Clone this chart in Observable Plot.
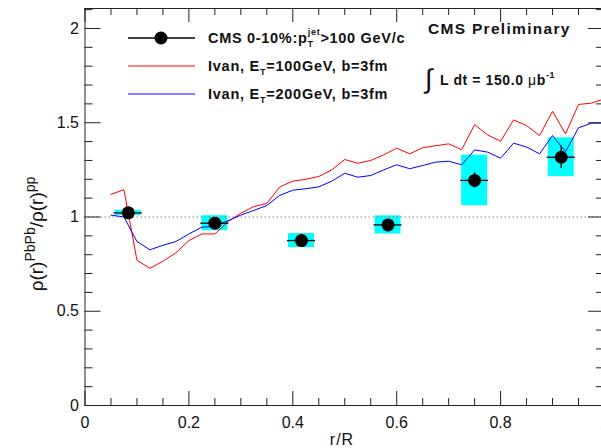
<!DOCTYPE html>
<html>
<head>
<meta charset="utf-8">
<script src="https://cdn.jsdelivr.net/npm/d3@7"></script>
<script src="https://cdn.jsdelivr.net/npm/@observablehq/plot@0.6"></script>
<style>
  body { margin: 0; background: #fff; }
  svg text { font-family: "Liberation Sans", Arial, Helvetica, sans-serif; }
</style>
</head>
<body>
<div id="chart"></div>
<script>
// CMS 0-10% jet shape ratio PbPb / pp, bins of width 1/6 in r/R
const rBins    = [0.0833, 0.25, 0.4167, 0.5833, 0.75, 0.9167];
const cmsRatio = [1.022, 0.967, 0.875, 0.958, 1.194, 1.317];
const cmsStat  = [0.012, 0.012, 0.010, 0.010, 0.040, 0.060];
const cmsSyst  = [0.014, 0.040, 0.037, 0.048, 0.134, 0.103];

// Model curves (Ivan, b = 3 fm)
const modelR = [0.05, 0.075, 0.1, 0.125, 0.15, 0.175, 0.2, 0.225, 0.25, 0.275,
                0.3, 0.325, 0.35, 0.375, 0.4, 0.425, 0.45, 0.475, 0.5, 0.525,
                0.55, 0.575, 0.6, 0.625, 0.65, 0.675, 0.7, 0.725, 0.75, 0.775,
                0.8, 0.825, 0.85, 0.875, 0.9, 0.925, 0.95, 0.975, 1.0];
const ivanEt100 = [1.12, 1.145, 0.77, 0.728, 0.765, 0.81, 0.875, 0.91, 0.91, 0.975,
                   1.02, 1.055, 1.072, 1.16, 1.19, 1.2, 1.215, 1.25, 1.305, 1.285,
                   1.3, 1.33, 1.365, 1.335, 1.367, 1.378, 1.388, 1.357, 1.49, 1.435,
                   1.402, 1.515, 1.485, 1.432, 1.561, 1.441, 1.597, 1.604, 1.627];
const ivanEt200 = [1.01, 1.0, 0.87, 0.826, 0.85, 0.87, 0.91, 0.946, 0.95, 0.98,
                   1.01, 1.035, 1.061, 1.115, 1.142, 1.15, 1.16, 1.19, 1.232, 1.211,
                   1.22, 1.25, 1.277, 1.256, 1.273, 1.291, 1.296, 1.277, 1.356, 1.344,
                   1.312, 1.392, 1.371, 1.335, 1.432, 1.347, 1.473, 1.498, 1.498];

// Axis ticks
const xMajor = [0, 0.2, 0.4, 0.6, 0.8, 1];
const xTickLabels = ["0", "0.2", "0.4", "0.6", "0.8", "1"];
const yMajor = [0, 0.5, 1, 1.5, 2];
const yTickLabels = ["0", "0.5", "1", "1.5", "2"];
const xMinor = d3.range(0, 1.0001, 0.05);
const yMinor = d3.range(0, 2.1001, 0.1);

const yMax = 2.106;
const xRange = [84.5, 604];
const yRange = [405, 8];

const cms = rBins.map((r, i) => ({r, v: cmsRatio[i], stat: cmsStat[i], syst: cmsSyst[i]}));
const m100 = modelR.map((r, i) => ({r, v: ivanEt100[i]}));
const m200 = modelR.map((r, i) => ({r, v: ivanEt200[i]}));

// tick lengths expressed in data units (x-ticks vertical, y-ticks horizontal)
const pxPerY = (yRange[0] - yRange[1]) / yMax;
const pxPerX = xRange[1] - xRange[0];
const xTickMaj = 14 / pxPerY, xTickMin = 7 / pxPerY;
const yTickMaj = 16 / pxPerX, yTickMin = 8 / pxPerX;
const isMajorX = d => Math.abs(d * 5 - Math.round(d * 5)) < 1e-6;
const isMajorY = d => Math.abs(d * 2 - Math.round(d * 2)) < 1e-6;
const frame = "#222";

const plot = Plot.plot({
  width: 601,
  height: 448,
  marginLeft: 84.5,
  marginRight: 0,
  marginTop: 8,
  marginBottom: 43,
  style: {background: "#fff"},
  x: {domain: [0, 1], range: xRange, axis: null},
  y: {domain: [0, yMax], range: yRange, axis: null},
  marks: [
    // systematic uncertainty boxes
    Plot.rect(cms, {
      x1: d => d.r - 0.025, x2: d => d.r + 0.025,
      y1: d => d.v - d.syst, y2: d => d.v + d.syst,
      fill: "#00ffff"
    }),
    // unity reference
    Plot.ruleY([1], {stroke: "#808080", strokeWidth: 1.2, strokeDasharray: "1.5,2.5"}),
    // model curves
    Plot.line(m100, {x: "r", y: "v", stroke: "#ff0000", strokeWidth: 1}),
    Plot.line(m200, {x: "r", y: "v", stroke: "#0000ff", strokeWidth: 1}),
    // data error bars and markers
    Plot.ruleY(cms, {y: "v", x1: d => d.r - 0.027, x2: d => d.r + 0.027, stroke: "#000", strokeWidth: 1.3}),
    Plot.ruleX(cms, {x: "r", y1: d => d.v - d.stat, y2: d => d.v + d.stat, stroke: "#000", strokeWidth: 1.3}),
    Plot.dot(cms, {x: "r", y: "v", r: 6.5, fill: "#000", stroke: "none"}),
    // frame
    Plot.ruleY([0], {stroke: frame}),
    Plot.ruleY([yMax], {stroke: frame}),
    Plot.ruleX([0], {y1: 0, y2: yMax, stroke: frame}),
    // inward ticks: bottom, top, left, right
    Plot.ruleX(xMinor, {x: d => d, y1: 0, y2: d => isMajorX(d) ? xTickMaj : xTickMin, stroke: frame}),
    Plot.ruleX(xMinor, {x: d => d, y1: yMax, y2: d => yMax - (isMajorX(d) ? xTickMaj : xTickMin), stroke: frame}),
    Plot.ruleY(yMinor, {y: d => d, x1: 0, x2: d => isMajorY(d) ? yTickMaj : yTickMin, stroke: frame}),
    Plot.ruleY(yMinor, {y: d => d, x1: 1, x2: d => 1 - (isMajorY(d) ? yTickMaj : yTickMin), stroke: frame}),
    // tick labels
    Plot.text(xMajor, {x: d => d, y: 0, text: (d, i) => xTickLabels[i], dy: 17, fontSize: 16,
                       fill: "#111", ariaLabel: "x-tick-labels"}),
    Plot.text(yMajor, {x: 0, y: d => d, text: (d, i) => yTickLabels[i], dx: -6, textAnchor: "end",
                       fontSize: 16, fill: "#111", ariaLabel: "y-tick-labels"})
  ]
});

document.getElementById("chart").appendChild(plot);

const svg = d3.select(plot);
svg.selectAll('g[aria-label="x-tick-labels"] text, g[aria-label="y-tick-labels"] text')
  .style("letter-spacing", "1px");

const ann = svg.append("g").attr("fill", "#111").attr("text-anchor", "start");

// x-axis title
ann.append("text")
  .attr("x", 342).attr("y", 445)
  .attr("text-anchor", "middle")
  .style("font-size", "16px").style("letter-spacing", "1px")
  .text("r/R");

// y-axis title
const yt = ann.append("text")
  .attr("transform", "translate(43,234) rotate(-90)")
  .attr("text-anchor", "middle")
  .style("font-size", "19px");
yt.append("tspan").text("ρ(r)");
yt.append("tspan").attr("dy", -8).style("font-size", "14px").text("PbPb");
yt.append("tspan").attr("dy", 8).text("/ρ(r)");
yt.append("tspan").attr("dy", -8).style("font-size", "14px").text("pp");

// legend
const leg = ann.append("g").style("font-weight", "bold");
const legendRows = [
  {y: 38, color: "#000", marker: true},
  {y: 66, color: "#ff0000", marker: false},
  {y: 94, color: "#0000ff", marker: false}
];
legendRows.forEach(row => {
  leg.append("line").attr("x1", 128).attr("x2", 195).attr("y1", row.y).attr("y2", row.y)
    .attr("stroke", row.color).attr("stroke-width", row.marker ? 1.3 : 1.2);
  if (row.marker) leg.append("circle").attr("cx", 161).attr("cy", row.y).attr("r", 6.5).attr("fill", "#000");
});

const t1 = leg.append("text").attr("x", 208).attr("y", 43)
  .style("font-size", "14.5px").style("letter-spacing", "0.7px");
t1.append("tspan").text("CMS 0-10%:p");
t1.append("tspan").attr("dy", 4).style("font-size", "9px").text("T");
t1.append("tspan").attr("dx", -6).attr("dy", -12).style("font-size", "9px").text("jet");
t1.append("tspan").attr("dy", 8).text(">100 GeV/c");

[{y: 71, et: "100"}, {y: 99, et: "200"}].forEach(row => {
  const t = leg.append("text").attr("x", 208).attr("y", row.y)
    .style("font-size", "14.5px").style("letter-spacing", "0.75px");
  t.append("tspan").text("Ivan, E");
  t.append("tspan").attr("dy", 4).style("font-size", "9px").text("T");
  t.append("tspan").attr("dy", -4).text(`=${row.et}GeV, b=3fm`);
});

// experiment label and luminosity
ann.append("text").attr("x", 428).attr("y", 34)
  .style("font-size", "15.5px").style("font-weight", "bold").style("letter-spacing", "1.3px")
  .text("CMS Preliminary");

ann.append("text").attr("x", 425).attr("y", 88)
  .style("font-size", "27px").text("∫");
const lum = ann.append("text").attr("x", 440).attr("y", 85)
  .style("font-size", "14px").style("font-weight", "bold").style("letter-spacing", "0.6px");
lum.append("tspan").text("L dt = 150.0 ");
lum.append("tspan").style("font-weight", "normal").text("μ");
lum.append("tspan").text("b");
lum.append("tspan").attr("dy", -7).style("font-size", "9px").text("-1");
</script>
</body>
</html>
